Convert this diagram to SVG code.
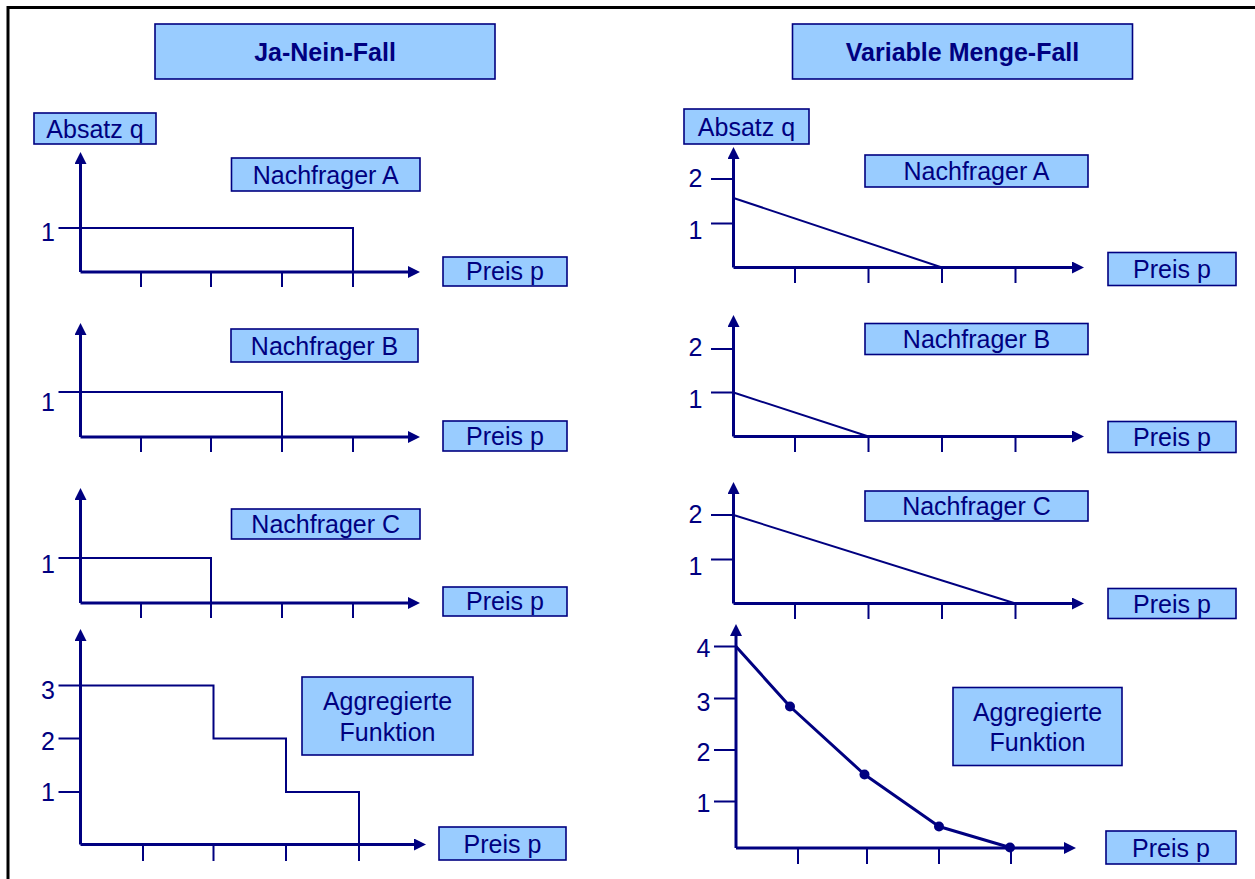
<svg xmlns="http://www.w3.org/2000/svg" width="1255" height="879" viewBox="0 0 1255 879">
<defs>
<marker id="arr" markerUnits="userSpaceOnUse" markerWidth="12" markerHeight="12" refX="6" refY="6" orient="auto" viewBox="0 0 12 12">
<path d="M0,0 L12,6 L0,12 z" fill="#000080"/>
</marker>
</defs>
<style>
.box{fill:#99CCFF;stroke:#000080;stroke-width:1.6}
.t{font-family:"Liberation Sans",Arial,sans-serif;font-size:25px;fill:#000080;text-anchor:middle}
.b{font-weight:bold}
.ax{stroke:#000080;stroke-width:3;fill:none}
.axa{stroke:#000080;stroke-width:3;fill:none;marker-end:url(#arr)}
.tk{stroke:#000080;stroke-width:2;fill:none}
.dl{stroke:#000080;stroke-width:2;fill:none}
.dc{stroke:#000080;stroke-width:3;fill:none;stroke-linejoin:round}
.dot{fill:#000080}
</style>
<rect width="1255" height="879" fill="#ffffff"/>
<path d="M8,879 V7.5 H1255" fill="none" stroke="#000000" stroke-width="3"/>

<g id="connectors">
<!-- Left A -->
<path class="axa" d="M80.5,272 V158"/>
<path class="axa" d="M80.5,272 H414"/>
<path class="tk" d="M141,272 V287 M211,272 V287 M282,272 V287 M353,272 V287"/>
<path class="dl" d="M58.5,228 H353 V272"/>
<!-- Left B -->
<path class="axa" d="M80.5,437 V329"/>
<path class="axa" d="M80.5,437 H414"/>
<path class="tk" d="M141,437 V452 M211,437 V452 M282,437 V452 M353,437 V452"/>
<path class="dl" d="M58.5,392 H282 V437"/>
<!-- Left C -->
<path class="axa" d="M80.5,603 V494"/>
<path class="axa" d="M80.5,603 H414"/>
<path class="tk" d="M141,603 V618 M211,603 V618 M282,603 V618 M353,603 V618"/>
<path class="dl" d="M58.5,558 H211 V603"/>
<!-- Left Aggregate -->
<path class="axa" d="M80.5,844.5 V635"/>
<path class="axa" d="M80.5,844.5 H420"/>
<path class="tk" d="M143,844.5 V861 M213.5,844.5 V861 M286,844.5 V861 M359,844.5 V861"/>
<path class="dl" d="M58.5,685.5 H213.5 V738.5 H286 V792 H359 V844.5"/>
<path class="tk" d="M58.5,738.5 H80.5 M58.5,792 H80.5"/>

<!-- Right A -->
<path class="axa" d="M733.5,267.5 V153"/>
<path class="axa" d="M733.5,267.5 H1078"/>
<path class="tk" d="M795,267.5 V283 M868.5,267.5 V283 M942,267.5 V283 M1015.5,267.5 V283"/>
<path class="tk" d="M711,179 H733.5 M711,223.5 H733.5"/>
<path class="dl" d="M733.5,198 L942,267.5"/>
<!-- Right B -->
<path class="axa" d="M733.5,436.5 V321"/>
<path class="axa" d="M733.5,436.5 H1078"/>
<path class="tk" d="M795,436.5 V452 M868.5,436.5 V452 M942,436.5 V452 M1015.5,436.5 V452"/>
<path class="tk" d="M711,349 H733.5 M711,392.5 H733.5"/>
<path class="dl" d="M733.5,392.5 L868.5,436.5"/>
<!-- Right C -->
<path class="axa" d="M733.5,603.5 V488"/>
<path class="axa" d="M733.5,603.5 H1078"/>
<path class="tk" d="M795,603.5 V619 M868.5,603.5 V619 M942,603.5 V619 M1015.5,603.5 V619"/>
<path class="tk" d="M711,515 H733.5 M711,559.5 H733.5"/>
<path class="dl" d="M733.5,515 L1015.5,603.5"/>
<!-- Right Aggregate -->
<path class="axa" d="M736,848 V630"/>
<path class="axa" d="M736,848 H1070"/>
<path class="tk" d="M798,848 V864 M867,848 V864 M939,848 V864 M1011,848 V864"/>
<path class="tk" d="M714,646.5 H736 M714,698.5 H736 M714,750 H736 M714,801.5 H736"/>
<path class="dc" d="M736,646.5 L790,706.5 L864.5,774.5 L939,826.5 L1010,847.5"/>
<circle class="dot" cx="790" cy="706.5" r="5"/>
<circle class="dot" cx="864.5" cy="774.5" r="5"/>
<circle class="dot" cx="939" cy="826.5" r="5"/>
<circle class="dot" cx="1010" cy="847.5" r="5"/>
</g>

<g id="title-left"><rect class="box" x="155" y="24" width="340" height="55"/><text class="t b" x="325" y="61">Ja-Nein-Fall</text></g>
<g id="title-right"><rect class="box" x="792.5" y="24" width="340" height="55"/><text class="t b" x="962.5" y="61">Variable Menge-Fall</text></g>

<g id="absatz-left"><rect class="box" x="34" y="113" width="122" height="31"/><text class="t" x="95" y="137.5">Absatz q</text></g>
<g id="absatz-right"><rect class="box" x="684" y="109" width="125" height="35"/><text class="t" x="746.5" y="136">Absatz q</text></g>

<g id="nA-left"><rect class="box" x="231.5" y="158" width="188.5" height="33"/><text class="t" x="325.7" y="183.5">Nachfrager A</text></g>
<g id="nB-left"><rect class="box" x="231" y="329" width="187" height="33"/><text class="t" x="324.5" y="355">Nachfrager B</text></g>
<g id="nC-left"><rect class="box" x="231.5" y="509" width="188.5" height="30"/><text class="t" x="325.7" y="533">Nachfrager C</text></g>
<g id="agg-left"><rect class="box" x="302" y="677" width="171" height="78"/><text class="t" x="387.5" y="710">Aggregierte</text><text class="t" x="387.5" y="740.5">Funktion</text></g>

<g id="pA-left"><rect class="box" x="443" y="257" width="124" height="29"/><text class="t" x="505" y="279.5">Preis p</text></g>
<g id="pB-left"><rect class="box" x="443" y="421" width="124" height="30"/><text class="t" x="505" y="444.5">Preis p</text></g>
<g id="pC-left"><rect class="box" x="443" y="587" width="124" height="29"/><text class="t" x="505" y="610">Preis p</text></g>
<g id="pAgg-left"><rect class="box" x="439" y="827" width="127" height="33"/><text class="t" x="502.5" y="852.5">Preis p</text></g>

<g id="nA-right"><rect class="box" x="865" y="155" width="223" height="32"/><text class="t" x="976.5" y="180">Nachfrager A</text></g>
<g id="nB-right"><rect class="box" x="865" y="323.5" width="223" height="31"/><text class="t" x="976.5" y="348">Nachfrager B</text></g>
<g id="nC-right"><rect class="box" x="865" y="491" width="223" height="30"/><text class="t" x="976.5" y="515">Nachfrager C</text></g>
<g id="agg-right"><rect class="box" x="953" y="687.5" width="169" height="78"/><text class="t" x="1037.5" y="721">Aggregierte</text><text class="t" x="1037.5" y="751">Funktion</text></g>

<g id="pA-right"><rect class="box" x="1108" y="252.5" width="128" height="33"/><text class="t" x="1172" y="278">Preis p</text></g>
<g id="pB-right"><rect class="box" x="1108" y="421.5" width="128" height="31"/><text class="t" x="1172" y="446">Preis p</text></g>
<g id="pC-right"><rect class="box" x="1108" y="588.5" width="128" height="30"/><text class="t" x="1172" y="612.5">Preis p</text></g>
<g id="pAgg-right"><rect class="box" x="1106" y="831" width="130" height="33"/><text class="t" x="1171" y="856.5">Preis p</text></g>

<g id="labels">
<text class="t" x="48" y="241">1</text>
<text class="t" x="48" y="411">1</text>
<text class="t" x="48" y="573">1</text>
<text class="t" x="48" y="698.5">3</text>
<text class="t" x="48" y="749.5">2</text>
<text class="t" x="48" y="801">1</text>
<text class="t" x="695.5" y="187">2</text>
<text class="t" x="695.5" y="239">1</text>
<text class="t" x="695.5" y="356">2</text>
<text class="t" x="695.5" y="408">1</text>
<text class="t" x="695.5" y="523">2</text>
<text class="t" x="695.5" y="575">1</text>
<text class="t" x="703.5" y="657">4</text>
<text class="t" x="703.5" y="710.5">3</text>
<text class="t" x="703.5" y="761">2</text>
<text class="t" x="703.5" y="812">1</text>
</g>
</svg>
